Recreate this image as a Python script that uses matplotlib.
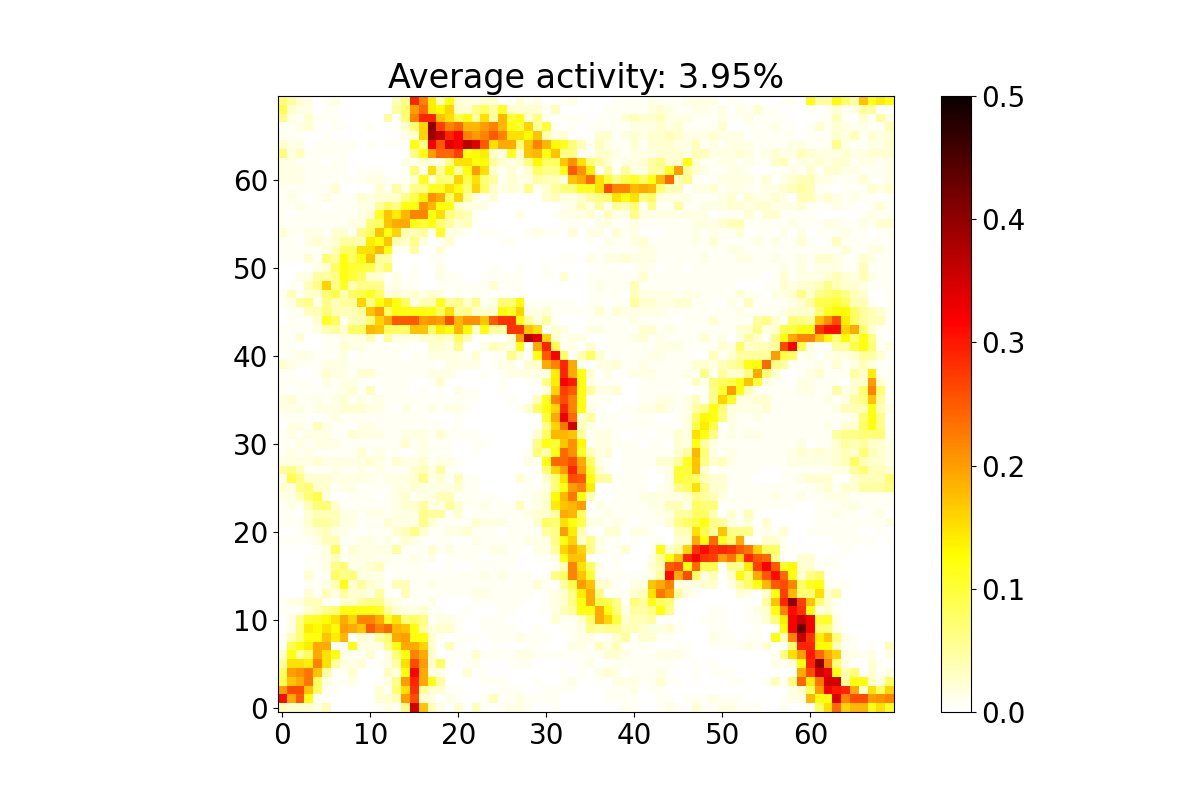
import string
import numpy as np
import matplotlib
matplotlib.use("Agg")
import matplotlib.pyplot as plt

plt.rcParams["font.size"] = 20

title = "Average activity: 3.95%"

# one character per cell: 0-9 are the pale shades, then a=0.10 ... z=0.35, A=0.36 ...
# first line is the top row of the map (y=69)
codes = string.digits + string.ascii_lowercase + string.ascii_uppercase
pale_levels = [0.0, 0.006, 0.014, 0.024, 0.036, 0.048, 0.06, 0.07, 0.08, 0.09]
activity_rows = [
    "75320 12000 00046 tme4c 32233 00312 01120 00011 11211 12222 01100 00110 c55d8 5hcec",
    "93220 11000 00057 koedg 33685 b3333 14000 00111 11232 11221 20213 11000 10131 25500",
    "62131 11000 00507 mtthf 9c5f5 iac36 10111 01113 43342 22111 21121 11100 01141 03152",
    "11231 01100 10013 7gErm oiikm icag5 a1010 11111 22232 31111 30011 12110 13132 12114",
    "11100 10000 00002 3gDAt wmkmp mffdh 42300 03312 32334 32223 22201 11110 11132 41323",
    "32201 11110 10110 c6wpy wBypf jj7hm idb74 14211 31333 22412 12221 11122 11162 11223",
    "72411 11100 00000 6ckoo rcde3 2b3hi ch661 13321 22233 32442 22321 23224 32223 22333",
    "22111 01100 00002 13226 ffcd5 3236d 88hlf 75312 23563 3c311 22121 13412 23233 12212",
    "22211 11101 11001 71f5d 5ckf3 13138 66cpl e1515 2255b k5321 12210 01121 31332 21112",
    "22211 11111 22111 3c376 g9f75 13225 442hj ofa69 b8cio 46101 22221 30234 42211 13112",
    "11111 13000 03152 66bbf c7g83 23261 3577b bfqmm iji74 40223 12211 22345 41101 11323",
    "12101 21113 23336 9elj8 g5213 00000 34223 567fc f6822 22111 23132 23204 42321 21101",
    "11211 01112 2586c clicc 32220 00000 00124 25154 71611 51122 23323 32223 11121 10131",
    "10111 11112 3bhei mmcf6 54100 00200 01222 31422 62222 22220 11131 33111 10000 01211",
    "11111 11122 78hjj cac75 34100 00000 00111 02211 21111 11222 34411 11121 11221 12133",
    "31122 13316 8hcg4 451b2 21011 00012 11030 22031 20001 11212 11301 10202 01112 11011",
    "11023 23554 ech43 62013 00000 11000 00000 10211 23111 11213 11112 12113 10141 11111",
    "11111 2488f fic11 50030 00000 00000 00000 01111 12211 11111 12211 11111 11113 11221",
    "11131 75c8c h5500 00110 00000 00000 00110 21223 22211 11121 11221 12112 13321 13211",
    "00002 38caa 95800 10020 00001 00100 10000 01110 12101 10111 11111 11212 12221 14111",
    "00225 56ca8 33020 10021 10011 11100 10300 11111 13111 11111 11111 01312 22343 24211",
    "01146 g6b46 66121 10011 11113 11100 00000 12111 41111 11111 11000 11323 34643 32111",
    "14133 79489 b8232 32320 11110 10100 00000 11110 42222 12211 11311 02236 36786 43001",
    "12562 6455g 6cfc8 244b5 63612 77d11 11110 11011 53322 33111 02041 11123 599a8 44101",
    "01144 74445 hk8cc ccc8f 56333 dbg22 31111 13132 22221 11111 11211 11233 37bdd 85431",
    "01113 b8144 7gjpp pklkq illhp ssc52 51000 11111 21111 01113 11115 63176 5hlqe 85441",
    "11112 45388 ih888 hh8ec id3c5 5sshf 03200 22111 13312 11111 11336 2399c csvvg j7311",
    "11300 11222 41522 23343 84000 03kBy g3122 00111 23121 11131 20253 16cjm mhd7d 7c610",
    "11000 11322 11111 00332 60024 32c1j t9120 30111 11122 21111 32834 45qw9 20055 9c712",
    "11221 11201 11110 11222 21301 1630c pw804 83111 11221 11004 13555 5k981 20222 35531",
    "32111 22211 11111 11102 22201 22033 jmtj1 02231 12111 11332 456cc o6511 12131 24211",
    "11001 32213 31111 11222 10010 12222 2etjc 30201 22211 12161 5336j 73001 23111 53e11",
    "11110 21221 01111 00130 00000 10011 6ewuc 21110 01111 11417 89cha 21102 21110 33k31",
    "10111 11231 40111 01010 21100 10000 2grpc 52230 01111 10016 akc41 11112 21152 37m71",
    "23112 12312 12111 11111 11100 01004 bmqmc 11100 01122 12416 gb223 31111 11212 56h51",
    "22212 22333 22102 11212 21000 00138 cgtmc 21001 12232 1256c 72222 31111 11124 44c42",
    "11110 12111 11111 11000 10000 00000 ajxo3 51110 11100 128dc 62112 11111 11111 27c61",
    "02214 21102 21111 11110 10000 00001 6gnz4 21111 11111 129e9 02111 11111 11203 38c61",
    "12122 21132 22112 22131 11100 00003 8iih5 12210 01011 32fc6 12122 11111 11156 67771",
    "11212 22111 11113 12111 00110 00006 cahld 12211 10110 32c52 11111 11112 01135 45332",
    "12121 11113 12110 12111 00100 00017 4colb 42301 11111 35i72 12111 11123 23234 37432",
    "22223 22222 32132 23122 10000 00021 cooqj 82101 11133 5bh63 42111 11122 22234 84332",
    "56411 12112 12111 34251 10000 00001 7gktk a3101 11012 aah30 11111 00111 11122 57443",
    "29633 32222 21222 36231 41100 00310 37fqp c5511 11002 a9843 31110 00112 33310 34447",
    "32673 31221 11122 32222 31100 00011 27ckm e0011 11012 68f63 31111 11111 12313 35556",
    "22479 20011 10123 12244 11111 00112 3dinc 40011 12222 23654 21111 12112 11222 11111",
    "12147 73111 11123 35225 31121 11412 3ehik 02111 11224 42877 01111 11110 01112 21111",
    "11034 44221 22122 26551 30111 11123 35ji8 11211 11122 55884 03141 00000 01121 10120",
    "11135 54221 11322 26311 11322 21113 87fc9 22121 01113 689c6 52130 30000 01111 11112",
    "00123 42210 11134 63112 23111 01111 56ke4 10330 22100 44f95 h6661 21300 11111 10010",
    "11112 44112 21213 21011 00211 11122 26cg3 62110 10110 33jco b7j10 33100 00011 11101",
    "00001 28132 22251 11312 11112 21102 25gjg 62113 001c3 5gsvs tspng 88110 00001 00000",
    "00011 24122 21211 21201 11101 11001 12chh 00010 0025c htwsr kngtp o6003 30110 00000",
    "00011 26722 34111 11001 00111 11000 014mf 82010 0034p qco99 165er wpbd3 30110 00000",
    "00031 18672 22011 11111 11121 21110 168mh a1111 1125v jq824 03d7j pvoc3 68100 00000",
    "00011 24c35 32144 11211 11111 11113 1059k h3310 22hjm 22233 0258c ipqm8 bc111 00000",
    "00031 42533 25104 11111 11221 11110 1236e j6011 34fnk 52100 00320 3cri7 7f350 00000",
    "12244 10335 66321 11200 00111 11100 1236c j9961 75c87 10000 00000 5htEr h7310 00000",
    "11134 67ccc cb532 23110 01000 11000 1245c cjc72 556c6 00001 10012 3cmvs c2310 00000",
    "026bb dfjgm mjbf7 86122 10011 10000 03113 7jga3 44500 00011 10011 37ewA wab20 00000",
    "027ed fdkjh pmoih c5233 10011 11001 00112 65664 43223 10001 10001 00dwH w7720 00000",
    "147cc hei03 257jk cc310 11101 11211 10012 20135 13311 00002 11011 0c4mA seh72 10000",
    "09cej j00c2 226cj jg304 10001 00011 00022 14241 11000 11001 11121 3007t tdd41 10104",
    "3c58j fc211 3027c mj301 11311 11221 11111 11332 11122 21000 00000 016fk uojg2 21202",
    "5ffem f5223 0125f qk381 01200 01110 00001 20111 11111 00101 00000 0212c tEm72 00310",
    "8klnh 51130 0042c wj220 03010 00000 00101 02320 11121 00101 11000 0000j qzxc4 70312",
    "9hjn8 21120 0126k tjc50 00011 10001 00120 01022 21131 10100 01100 1416o enzz5 cc328",
    "kqqh8 11000 0317f s5331 10000 11100 11110 00111 20110 00000 00000 00023 8kwut j3f8g",
    "vjpc1 10000 0334k q3202 10014 11211 11000 00111 10011 01112 11100 00122 iccym qqklm",
    "43332 40000 01216 zh420 30410 12210 01000 00001 10012 10311 22111 00100 18fog iicfb",
]


def decode(c):
    i = codes.index(c)
    return pale_levels[i] if i < 10 else i / 100


activity = np.array(
    [[decode(c) for c in row.replace(" ", "")] for row in activity_rows]
)[::-1]

plt.figure(figsize=(12, 8), dpi=100)
plt.imshow(activity, cmap="hot_r", vmin=0, vmax=0.5, origin="lower")
plt.title(title)
plt.colorbar()
plt.savefig("out.png")
plt.close()
